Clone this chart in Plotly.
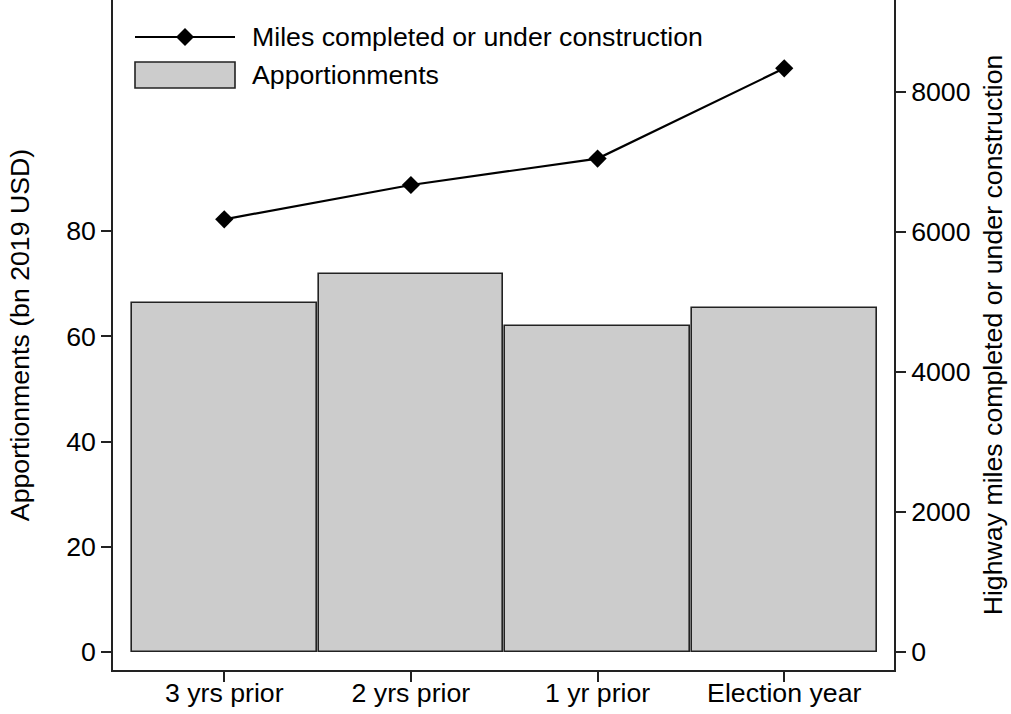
import plotly.graph_objects as go

categories = ["3 yrs prior", "2 yrs prior", "1 yr prior", "Election year"]
apportionments = [66.4, 71.8, 61.9, 65.4]
miles = [6177, 6667, 7045, 8334]
left_ticks = [0, 20, 40, 60, 80]
right_ticks = [0, 2000, 4000, 6000, 8000]

FONT = "Liberation Sans, Arial, sans-serif"
FS = 26.7
W, H = 1011, 714
L, R, T, B = 113, 117, 0, 44
PW, PH = W - L - R, H - T - B


def px(x):
    return (x - L) / PW


def py(y):
    return 1 - (y - T) / PH


fig = go.Figure()
fig.add_trace(go.Bar(
    x=categories, y=apportionments, width=0.99,
    marker=dict(color="#cccccc", line=dict(color="#222222", width=1.6)),
    showlegend=False, yaxis="y",
))
fig.add_trace(go.Scatter(
    x=categories, y=miles, mode="lines+markers",
    line=dict(color="black", width=2.2),
    marker=dict(symbol="diamond", size=14, color="black"),
    showlegend=False, yaxis="y2",
))

axis_common = dict(
    showline=True, linecolor="#222222", linewidth=1.6,
    ticks="outside", ticklen=10, tickwidth=1.6, tickcolor="#222222",
    showgrid=False, zeroline=False, automargin=False,
    tickfont=dict(family=FONT, size=FS, color="black"),
)

fig.update_layout(
    width=W, height=H,
    margin=dict(l=L, r=R, t=T, b=B, autoexpand=False),
    plot_bgcolor="white", paper_bgcolor="white",
    bargap=0,
    xaxis=dict(**axis_common, type="category", range=[-0.596, 3.588], ticklabelstandoff=-12),
    yaxis=dict(**axis_common, range=[-3.42, 123.9], tickvals=left_ticks,
               title=dict(text="Apportionments (bn 2019 USD)", standoff=29,
                          font=dict(family=FONT, size=FS, color="black"))),
    yaxis2=dict(**axis_common, overlaying="y", side="right",
                range=[-261, 9310], tickvals=right_ticks,
                title=dict(text="Highway miles completed or under construction", standoff=14,
                           font=dict(family=FONT, size=FS, color="black"))),
)

# Manual legend (top-left)
shapes = []
shapes.append(dict(type="line", xref="paper", yref="paper",
                   x0=px(135), x1=px(235), y0=py(37), y1=py(37),
                   line=dict(color="black", width=2.2)))
cx, cy, r = 185, 37, 9
shapes.append(dict(type="path", xref="paper", yref="paper",
                   path=f"M {px(cx - r)} {py(cy)} L {px(cx)} {py(cy - r)} L {px(cx + r)} {py(cy)} L {px(cx)} {py(cy + r)} Z",
                   fillcolor="black", line=dict(color="black", width=0)))
shapes.append(dict(type="rect", xref="paper", yref="paper",
                   x0=px(135), x1=px(235), y0=py(88), y1=py(62),
                   fillcolor="#cccccc", line=dict(color="#222222", width=1.6)))
fig.update_layout(shapes=shapes)
fig.add_annotation(xref="paper", yref="paper", x=px(250), y=py(37), xanchor="left", yanchor="middle",
                   text="Miles completed or under construction", showarrow=False,
                   font=dict(family=FONT, size=FS, color="black"))
fig.add_annotation(xref="paper", yref="paper", x=px(250), y=py(75), xanchor="left", yanchor="middle",
                   text="Apportionments", showarrow=False,
                   font=dict(family=FONT, size=FS, color="black"))

fig.write_html("out.html", config={"displayModeBar": False},
               post_script="document.body.style.margin='0';document.body.style.padding='0';")
